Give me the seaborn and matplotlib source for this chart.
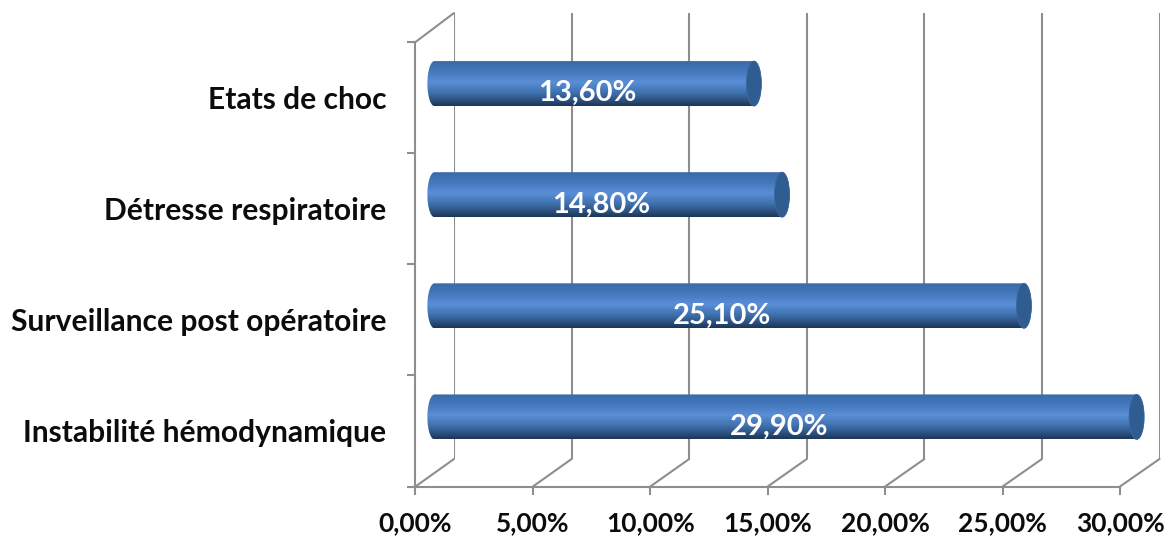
import numpy as np
import pandas as pd
import seaborn as sns
import matplotlib
matplotlib.use("Agg")
import matplotlib.pyplot as plt
from matplotlib.colors import LinearSegmentedColormap
from matplotlib.patches import ConnectionPatch, Ellipse, Polygon

categories = ["Etats de choc", "Détresse respiratoire",
              "Surveillance post opératoire", "Instabilité hémodynamique"]
values = [13.6, 14.8, 25.1, 29.9]
value_labels = ["13,60%", "14,80%", "25,10%", "29,90%"]
x_ticks = [0, 5, 10, 15, 20, 25, 30]
x_tick_labels = ["0,00%", "5,00%", "10,00%", "15,00%", "20,00%", "25,00%", "30,00%"]

W, H = 1172, 539
GREY = "#8e8e8e"
LW = 1.5
TEXT = "#0c0c0c"
FONT = "Lato"

sns.set_theme(style="white")
plt.rcParams["font.family"] = [FONT, "DejaVu Sans"]

fig = plt.figure(figsize=(W / 100, H / 100), dpi=100, facecolor="white")


def px_axes(left, right, top, bottom, z):
    a = fig.add_axes([left / W, 1 - bottom / H, (right - left) / W, (bottom - top) / H], zorder=z)
    a.set_xlim(0, 30)
    a.set_ylim(3.5, -0.5)
    a.patch.set_visible(False)
    return a


back = px_axes(454, 1159.5, 13, 459, 1)
front = px_axes(415.5, 1120, 42, 486.5, 2)
mid = px_axes(434.5, 1139, 28, 472.5, 3)

# back wall gridlines
back.set_axis_off()
back.vlines(x_ticks, 3.5, -0.5, color=GREY, lw=LW)

# front axes
for s in ["top", "right"]:
    front.spines[s].set_visible(False)
for s in ["left", "bottom"]:
    front.spines[s].set_color(GREY)
    front.spines[s].set_linewidth(LW)
front.set_xticks(x_ticks, x_tick_labels)
front.set_yticks([0, 1, 2, 3], categories)
front.set_yticks([-0.5, 0.5, 1.5, 2.5, 3.5], minor=True)
front.tick_params(axis="x", which="major", length=6, width=LW, color=GREY, pad=12,
                  labelsize=19, labelcolor=TEXT, bottom=True)
front.tick_params(axis="y", which="major", length=0, pad=21, labelsize=21.6, labelcolor=TEXT)
front.tick_params(axis="y", which="minor", length=6, width=LW, color=GREY, left=True)
for lab in front.get_xticklabels() + front.get_yticklabels():
    lab.set_fontweight("bold")
    lab.set_fontfamily(FONT)

# depth connectors
for t in x_ticks:
    fig.add_artist(ConnectionPatch((t, 3.5), (t, 3.5), "data", "data", axesA=front, axesB=back,
                                   color=GREY, lw=LW))
fig.add_artist(ConnectionPatch((0, -0.5), (0, -0.5), "data", "data", axesA=front, axesB=back,
                               color=GREY, lw=LW))

# bars
df = pd.DataFrame({"categorie": categories, "valeur": values})
sns.barplot(data=df, x="valeur", y="categorie", order=categories, orient="h",
            width=0.405, color="#4f81bd", ax=mid, saturation=1)
mid.set_xlim(0, 30)
mid.set_ylim(3.5, -0.5)
mid.set_axis_off()

cmap = LinearSegmentedColormap.from_list("cyl", [
    (0.00, "#44719f"), (0.04, "#3a6ca9"), (0.25, "#4378bd"), (0.48, "#5a8fd6"),
    (0.68, "#4375b4"), (0.85, "#2f5688"), (1.00, "#1c3553")])
grad = np.linspace(0, 1, 256).reshape(-1, 1)
cap = 7.5 * 30 / 704.5  # half-width of the end ellipse, data units

for patch, lab in zip(list(mid.patches), value_labels):
    x1 = patch.get_width()
    y0, h = patch.get_y(), patch.get_height()
    patch.set_visible(False)
    yc = y0 + h / 2
    th = np.linspace(-np.pi / 2, np.pi / 2, 60)
    right = np.c_[x1 + cap * np.cos(th), yc + h / 2 * np.sin(th)]
    left = np.c_[-cap * 0.95 * np.cos(th[::-1]), yc + h / 2 * np.sin(th[::-1])]
    outline = Polygon(np.r_[right, left], closed=True, transform=mid.transData,
                      fc="none", ec="none", clip_on=False)
    mid.add_patch(outline)
    im = mid.imshow(grad, cmap=cmap, aspect="auto", extent=(-2 * cap, x1 + 2 * cap, y0 + h, y0),
                    zorder=3, interpolation="bilinear")
    im.set_clip_box(fig.bbox)
    im.set_clip_path(outline)
    mid.add_patch(Ellipse((x1, yc), 2 * cap, h, fc="#2f5d92", ec="#3a6898", lw=0.6,
                          zorder=4, clip_on=False))
    mid.annotate(lab, (x1 / 2, yc), xytext=(-5, -7), textcoords="offset points",
                 ha="center", va="center", color="white", fontsize=21, fontweight="bold",
                 family=FONT, zorder=5)
mid.set_xlim(0, 30)
mid.set_ylim(3.5, -0.5)

fig.savefig("out.png", dpi=100, facecolor="white")
